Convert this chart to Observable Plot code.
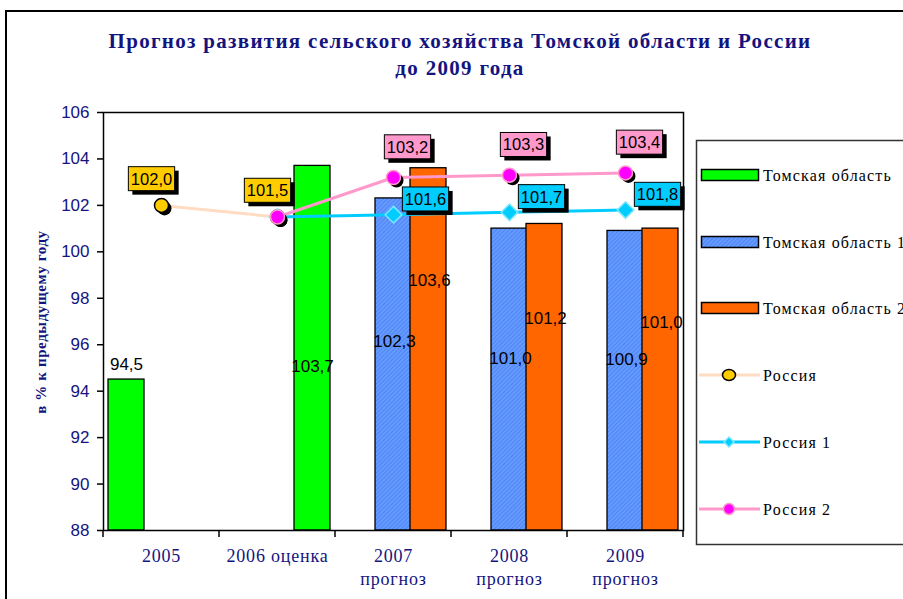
<!DOCTYPE html>
<html><head><meta charset="utf-8">
<script src="https://cdn.jsdelivr.net/npm/d3@7"></script>
<script src="https://cdn.jsdelivr.net/npm/@observablehq/plot@0.6"></script>
<style>body{margin:0;background:#fff}</style>
</head><body>
<script>
// ---- data ----
const categories = ["2005", "2006", "2007", "2008", "2009"];
const tickLabels = ["2005", "2006 оценка", "2007\nпрогноз", "2008\nпрогноз", "2009\nпрогноз"];
const yTicks = [88, 90, 92, 94, 96, 98, 100, 102, 104, 106];
const tomsk   = [94.5, 103.7, null, null, null];
const tomsk1  = [null, null, 102.3, 101.0, 100.9];
const tomsk2  = [null, null, 103.6, 101.2, 101.0];
const russia  = [102.0, 101.5, null, null, null];
const russia1 = [null, 101.5, 101.6, 101.7, 101.8];
const russia2 = [null, 101.5, 103.2, 103.3, 103.4];
const seriesNames = ["Томская область", "Томская область 1", "Томская область 2", "Россия", "Россия 1", "Россия 2"];
const titleLines = ["Прогноз развития сельского хозяйства Томской области и России", "до 2009 года"];
const yLabel = "в % к предыдущему году";

// ---- helpers ----
const rows = arr => categories.map((c, i) => ({category: c, value: arr[i]})).filter(d => d.value != null);
const fmt = v => d3.format(".1f")(v).replace(".", ",");
const navy = "#14147f";
const sans = "Liberation Sans, Arial, sans-serif";
const serif = "Liberation Serif, Times New Roman, serif";

const G = rows(tomsk), B = rows(tomsk1), O = rows(tomsk2);
const R = rows(russia), R1 = rows(russia1), R2 = rows(russia2);
const base = 88;
const barOpts = {x: "category", y1: base, y2: "value", stroke: "black", strokeWidth: 1.3};

const chart = Plot.plot({
  width: 903, height: 599,
  marginLeft: 103, marginRight: 220, marginTop: 112, marginBottom: 69,
  style: {background: "white", overflow: "visible"},
  x: {domain: categories, padding: 0, axis: null},
  y: {domain: [88, 106], axis: null},
  marks: [
    Plot.barY(G.filter(d => d.category !== "2006"), {...barOpts, fill: "#00ff00", insetLeft: 5, insetRight: 75}),
    Plot.barY(G.filter(d => d.category === "2006"), {...barOpts, fill: "#00ff00", insetLeft: 75, insetRight: 5}),
    Plot.barY(B, {...barOpts, fill: "url(#hatch)", insetLeft: 40, insetRight: 40}),
    Plot.barY(O, {...barOpts, fill: "#ff6600", insetLeft: 75, insetRight: 5}),
    Plot.frame({stroke: "black", strokeWidth: 1.5}),
    Plot.axisY({ticks: yTicks, label: null, tickSize: 6, tickPadding: 8, fontSize: 17, fontFamily: sans, fill: navy, stroke: "black", strokeWidth: 1.5, tickFormat: d => String(d)}),
    Plot.axisX({label: null, tickSize: 0, tickPadding: 15, fontSize: 18, fontFamily: serif, fill: navy, lineHeight: 1.28,
      tickFormat: d => tickLabels[categories.indexOf(d)]}),
    // bar value labels
    Plot.text(G.filter(d => d.category !== "2006"), {x: "category", y: "value", text: d => fmt(d.value), dx: -35, dy: -15, fontSize: 17, fontFamily: sans, fill: "black"}),
    Plot.text(G.filter(d => d.category === "2006"), {x: "category", y: d => base + (d.value - base) * 0.45, text: d => fmt(d.value), dx: 35, fontSize: 17, fontFamily: sans, fill: "black"}),
    Plot.text(B, {x: "category", y: d => base + (d.value - base) * 0.57, text: d => fmt(d.value), dx: 1, fontSize: 17, fontFamily: sans, fill: "black"}),
    Plot.text(O, {x: "category", y: d => base + (d.value - base) * 0.69, text: d => fmt(d.value), dx: 36, fontSize: 17, fontFamily: sans, fill: "black"}),
    // Россия
    Plot.line(R, {x: "category", y: "value", stroke: "#ffdcc2", strokeWidth: 3}),
    Plot.dot(R, {x: "category", y: "value", r: 7, fill: "black", dx: 3, dy: 3}),
    Plot.dot(R, {x: "category", y: "value", r: 7, fill: "#ffcc00", stroke: "black", strokeWidth: 1.5}),
    // Россия 1
    Plot.line(R1, {x: "category", y: "value", stroke: "#00ccff", strokeWidth: 3}),
    Plot.dot(R1, {x: "category", y: "value", r: 7.5, symbol: "diamond2", fill: "#00ccff", stroke: "#7ae8ff", strokeWidth: 1.5}),
    // Россия 2
    Plot.line(R2, {x: "category", y: "value", stroke: "#ff99cc", strokeWidth: 3}),
    Plot.dot(R2, {x: "category", y: "value", r: 7, fill: "black", dx: 3, dy: 3}),
    Plot.dot(R2, {x: "category", y: "value", r: 7, fill: "#ff00ff", stroke: "#ff99cc", strokeWidth: 1.5}),
    // point labels (boxes added below) — the last three text marks
    Plot.text(R, {x: "category", y: "value", text: d => fmt(d.value), dx: -10, dy: -26, fontSize: 16.5, fontFamily: sans, fill: "black"}),
    Plot.text(R1.filter(d => d.category !== "2006"), {x: "category", y: "value", text: d => fmt(d.value), dx: 32, dy: -15, fontSize: 16.5, fontFamily: sans, fill: "black"}),
    Plot.text(R2.filter(d => d.category !== "2006"), {x: "category", y: "value", text: d => fmt(d.value), dx: 14, dy: -30, fontSize: 16.5, fontFamily: sans, fill: "black"})
  ]
});
document.body.append(chart);

const ns = "http://www.w3.org/2000/svg";
const svg = d3.select(chart);

// hatch pattern for "Томская область 1"
const defs = svg.insert("defs", ":first-child");
const pat = defs.append("pattern").attr("id", "hatch").attr("patternUnits", "userSpaceOnUse")
  .attr("width", 3).attr("height", 3).attr("patternTransform", "rotate(45)");
pat.append("rect").attr("width", 3).attr("height", 3).attr("fill", "#6a9cff");
pat.append("rect").attr("width", 1.2).attr("height", 3).attr("fill", "#4a86f5");

// label boxes
const textGroups = Array.from(chart.querySelectorAll(':scope > g[aria-label="text"]'));
const labelGroups = textGroups.slice(-3);
const boxFills = ["#ffcc00", "#00ccff", "#ff99cc"];
labelGroups.forEach((g, k) => {
  const sr = chart.getBoundingClientRect();
  const layer = document.createElementNS(ns, "g");
  g.parentNode.insertBefore(layer, g);
  for (const t of g.querySelectorAll("text")) {
    const b = t.getBoundingClientRect();
    const x = b.left - sr.left - 2.5, y = b.top - sr.top - 3, w = b.width + 5, h = b.height + 6;
    d3.select(layer).append("rect").attr("x", x + 4).attr("y", y + 4).attr("width", w).attr("height", h).attr("fill", "black");
    d3.select(layer).append("rect").attr("x", x).attr("y", y).attr("width", w).attr("height", h)
      .attr("fill", boxFills[k]).attr("stroke", "black").attr("stroke-width", 1);
  }
});

// x boundary ticks
const xs = chart.scale("x"), ys = chart.scale("y");
const y0 = ys.apply(88);
const edges = categories.map(c => xs.apply(c)).concat([xs.apply(categories[categories.length - 1]) + xs.bandwidth]);
svg.append("g").selectAll("line").data(edges).join("line")
  .attr("x1", d => d).attr("x2", d => d).attr("y1", y0).attr("y2", y0 + 7)
  .attr("stroke", "black").attr("stroke-width", 1.5);

// letter spacing on x tick labels
svg.selectAll('g[aria-label="x-axis tick label"] text').style("letter-spacing", "0.8px");

// title
titleLines.forEach((t, i) => {
  svg.append("text").attr("x", 460).attr("y", 48 + i * 27).attr("text-anchor", "middle")
    .attr("font-family", serif).attr("font-weight", "bold").attr("font-size", 21)
    .attr("letter-spacing", "1.3px").attr("fill", navy).text(t);
});

// y label
svg.append("text").attr("transform", "translate(46,322) rotate(-90)").attr("text-anchor", "middle")
  .attr("font-family", serif).attr("font-weight", "bold").attr("font-size", 15)
  .attr("letter-spacing", "0.6px").attr("fill", navy).text(yLabel);

// legend
const lg = svg.append("g").attr("text-anchor", "start");
lg.append("rect").attr("x", 696.5).attr("y", 140.5).attr("width", 240).attr("height", 404)
  .attr("fill", "white").attr("stroke", "#333").attr("stroke-width", 1.5);
const legendY = [175, 242, 308, 375, 442, 509];
const swatchFill = ["#00ff00", "url(#hatch)", "#ff6600"];
seriesNames.forEach((name, i) => {
  const cy = legendY[i];
  if (i < 3) {
    lg.append("rect").attr("x", 701.5).attr("y", cy - 5.5).attr("width", 57).attr("height", 11)
      .attr("fill", swatchFill[i]).attr("stroke", "black").attr("stroke-width", 1.5);
  } else {
    const col = ["#ffdcc2", "#00ccff", "#ff99cc"][i - 3];
    lg.append("line").attr("x1", 699).attr("x2", 760).attr("y1", cy).attr("y2", cy)
      .attr("stroke", col).attr("stroke-width", 3);
    if (i === 3) lg.append("ellipse").attr("cx", 729).attr("cy", cy).attr("rx", 6.5).attr("ry", 5.5)
      .attr("fill", "#ffcc00").attr("stroke", "black").attr("stroke-width", 1.5);
    if (i === 4) lg.append("path").attr("d", `M729,${cy - 5}L734,${cy}L729,${cy + 5}L724,${cy}Z`)
      .attr("fill", "#00ccff").attr("stroke", "#7ae8ff").attr("stroke-width", 1.5);
    if (i === 5) lg.append("circle").attr("cx", 729).attr("cy", cy).attr("r", 5.5)
      .attr("fill", "#ff00ff").attr("stroke", "#ff99cc").attr("stroke-width", 1.5);
  }
  lg.append("text").attr("x", 763).attr("y", cy).attr("dy", "0.35em").attr("text-anchor", "start")
    .attr("font-family", serif).attr("font-size", 16).attr("letter-spacing", "1.15px")
    .attr("fill", "black").text(name);
});

// outer border
svg.append("rect").attr("x", 6).attr("y", 11).attr("width", 1000).attr("height", 1000)
  .attr("fill", "none").attr("stroke", "black").attr("stroke-width", 2);
</script>
</body></html>
